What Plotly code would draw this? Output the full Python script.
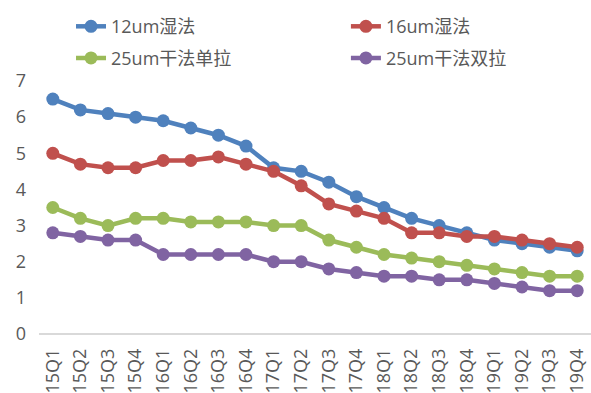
import plotly.graph_objects as go

categories = ["15Q1","15Q2","15Q3","15Q4","16Q1","16Q2","16Q3","16Q4",
              "17Q1","17Q2","17Q3","17Q4","18Q1","18Q2","18Q3","18Q4",
              "19Q1","19Q2","19Q3","19Q4"]
wet12 = [6.5, 6.2, 6.1, 6.0, 5.9, 5.7, 5.5, 5.2, 4.6, 4.5, 4.2, 3.8, 3.5, 3.2, 3.0, 2.8, 2.6, 2.5, 2.4, 2.3]
wet16 = [5.0, 4.7, 4.6, 4.6, 4.8, 4.8, 4.9, 4.7, 4.5, 4.1, 3.6, 3.4, 3.2, 2.8, 2.8, 2.7, 2.7, 2.6, 2.5, 2.4]
dry25_single = [3.5, 3.2, 3.0, 3.2, 3.2, 3.1, 3.1, 3.1, 3.0, 3.0, 2.6, 2.4, 2.2, 2.1, 2.0, 1.9, 1.8, 1.7, 1.6, 1.6]
dry25_double = [2.8, 2.7, 2.6, 2.6, 2.2, 2.2, 2.2, 2.2, 2.0, 2.0, 1.8, 1.7, 1.6, 1.6, 1.5, 1.5, 1.4, 1.3, 1.2, 1.2]
y_ticks = [0, 1, 2, 3, 4, 5, 6, 7]

series = [
    ("12um湿法", wet12, "#4F81BD", "legend"),
    ("16um湿法", wet16, "#C0504D", "legend2"),
    ("25um干法单拉", dry25_single, "#9BBB59", "legend3"),
    ("25um干法双拉", dry25_double, "#8064A2", "legend4"),
]

FONT = "Open Sans, Noto Sans CJK SC, sans-serif"
fig = go.Figure()
for name, vals, color, lg in series:
    fig.add_trace(go.Scatter(
        x=categories, y=vals, name=name, mode="lines+markers",
        line=dict(color=color, width=4.5),
        marker=dict(color=color, size=13),
        cliponaxis=False, legend=lg, showlegend=True,
    ))

legend_common = dict(orientation="h",
                     font=dict(size=18, color="#595959", family=FONT),
                     bgcolor="rgba(0,0,0,0)", xanchor="left", yanchor="middle")
col1, col2 = 0.058, 0.556
row1, row2 = 1.215, 1.09
fig.update_layout(
    width=591, height=393,
    margin=dict(l=39, r=0, t=81, b=59),
    paper_bgcolor="white", plot_bgcolor="white",
    font=dict(family=FONT, color="#595959"),
    showlegend=True,
    legend=dict(x=col1, y=row1, **legend_common),
    legend2=dict(x=col2, y=row1, **legend_common),
    legend3=dict(x=col1, y=row2, **legend_common),
    legend4=dict(x=col2, y=row2, **legend_common),
    xaxis=dict(type="category", range=[-0.5, len(categories) - 0.5],
               tickangle=-90, showgrid=False, showline=False,
               tickfont=dict(size=18, color="#595959"), ticks="", zeroline=False,
               ticklabelstandoff=10),
    yaxis=dict(range=[0, 7], tickvals=y_ticks, showgrid=False, zeroline=True,
               zerolinecolor="#D9D9D9", zerolinewidth=2, showline=False,
               tickfont=dict(size=18, color="#595959"), ticklabelstandoff=12),
)
fig.write_html("out.html")
